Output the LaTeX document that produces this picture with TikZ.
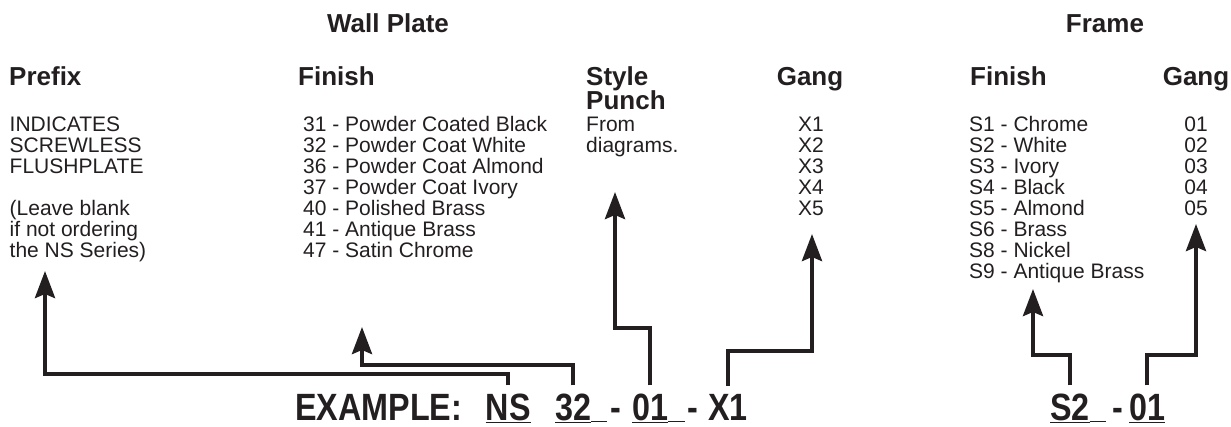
\documentclass[tikz,border=0pt]{standalone}
\usepackage{fontspec}
\setmainfont{Liberation Sans}
\newfontfamily\codefont[FakeStretch=0.85]{Liberation Sans}
\usepackage{tikz}
\usetikzlibrary{arrows.meta}
\definecolor{ink}{HTML}{231F20}
\tikzset{%
	title text/.style={
		font=\fontsize{26}{28}\selectfont\bfseries,
		anchor=base
	},
	head text/.style={
		font=\fontsize{26}{28}\selectfont\bfseries,
		anchor=base west
	},
	list text/.style={
		font=\fontsize{21}{21}\selectfont,
		anchor=base west
	},
	code text/.style={
		font=\codefont\fontsize{38}{40}\selectfont\bfseries,
		anchor=base west,
		inner ysep=8pt
	},
	pointer/.style={
		draw=ink,
		line width=4pt,
		-{Stealth[length=27pt, width=20pt, inset=4pt]}
	},
}
\newcommand{\ulrest}[1]{\rlap{\underline{\hspace{#1}}}}

\begin{document}
\begin{tikzpicture}[
			x=1pt, y=-1pt,
			every node/.style={inner sep=0pt, text=ink}
			]
			\useasboundingbox (0,0) rectangle (1231,427);
			
			% Titles and column heads
			\node[title text] (wallplate) at (388,33) {Wall Plate};
			\node[title text] (frame) at (1105,33) {Frame};
			\node[head text] (prefix) at (9,86) {Prefix};
			\node[head text] (wallfinish) at (298,86) {Finish};
			\node[head text] (style) at (586,86) {Style};
			\node[head text] (punch) at (586,110) {Punch};
			\node[head text, anchor=base] (wallgang) at (810,86) {Gang};
			\node[head text] (framefinish) at (970,86) {Finish};
			\node[head text, anchor=base] (framegang) at (1196,86) {Gang};
			
			% Lists below the heads
			\foreach \row/\txt in {0/INDICATES, 1/SCREWLESS, 2/FLUSHPLATE, 4/{(Leave blank}, 5/if not ordering, 6/{the NS Series)}}
				\node[list text] (pre\row) at (9.5,132+21*\row) {\txt};
			\foreach \row/\txt in {0/31 - Powder Coated Black, 1/32 - Powder Coat White, 2/36 - Powder Coat Almond, 3/37 - Powder Coat Ivory, 4/40 - Polished Brass, 5/41 - Antique Brass, 6/47 - Satin Chrome}
				\node[list text] (wf\row) at (303,132+21*\row) {\txt};
			\node[list text] (from) at (586,132) {From};
			\node[list text] (diagrams) at (586,153) {diagrams.};
			\foreach \row in {1,...,5}
				\node[list text, anchor=base] (wg\row) at (811,111+21*\row) {X\row};
			\foreach \row/\txt in {0/S1 - Chrome, 1/S2 - White, 2/S3 - Ivory, 3/S4 - Black, 4/S5 - Almond, 5/S6 - Brass, 6/S8 - Nickel, 7/S9 - Antique Brass}
				\node[list text] (ff\row) at (969,132+21*\row) {\txt};
			\foreach \row in {1,...,5}
				\node[list text, anchor=base] (fg\row) at (1196,111+21*\row) {0\row};
			
			% Example code
			\node[code text] (example) at (295,420) {EXAMPLE:};
			\node[code text] (ns) at (485.5,420) {\underline{NS}};
			\node[code text] (wfin) at (555,420) {\underline{32}\ulrest{16pt}};
			\node[code text] (dashA) at (610,420) {-};
			\node[code text] (wsty) at (632,420) {\underline{01}\ulrest{17pt}};
			\node[code text] (dashB) at (687,420) {-};
			\node[code text] (wgang) at (708,420) {X1};
			\node[code text] (ffin) at (1050,420) {\underline{S2}\ulrest{16pt}};
			\node[code text] (dashC) at (1112,420) {-};
			\node[code text] (fgang) at (1129,420) {\underline{01}};
			
			% Arrow tips
			\coordinate (prefixtip) at (45,271);
			\coordinate (wallfinishtip) at (362,327);
			\coordinate (styletip) at (615,192);
			\coordinate (wallgangtip) at (812,234);
			\coordinate (framefinishtip) at (1033,289);
			\coordinate (framegangtip) at (1196,224);
			
			% Pointers from the code up to the lists
			\draw[pointer] (ns.north) -- ++(0,-11) -| (prefixtip);
			\draw[pointer] (wfin.north) -- ++(0,-20) -| (wallfinishtip);
			\draw[pointer] (wsty.north) -- ++(0,-57) -| (styletip);
			\draw[pointer] (wgang.north) -- ++(0,-35) -| (wallgangtip);
			\draw[pointer] (ffin.north) -- ++(0,-30) -| (framefinishtip);
			\draw[pointer] (fgang.north) -- ++(0,-30) -| (framegangtip);
			
		\end{tikzpicture}
\end{document}
